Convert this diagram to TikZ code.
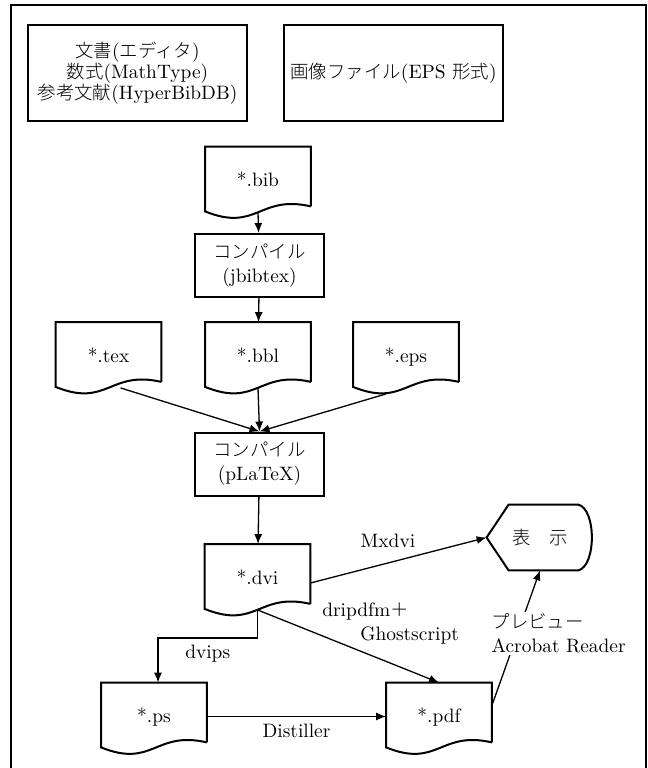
\documentclass[tikz,border=0pt]{standalone}
\usepackage{fontspec}
\usetikzlibrary{arrows.meta}
\newfontfamily\jp{Noto Sans CJK JP Light}[Scale=0.95]
\newcommand{\jtext}[1]{{\jp #1}}
\tikzset{
  docfile/.style={rectangle, minimum width=52.5pt, minimum height=29.5pt, inner sep=0pt, text height=10.4pt, text depth=0pt},
  procbox/.style={rectangle, draw, line width=1pt, minimum width=64.5pt, minimum height=31.5pt, align=center, inner sep=0pt},
  flow/.style={line width=0.65pt, -{Latex[length=5pt,width=4pt]}},
}
\begin{document}
\begin{tikzpicture}[x={(0.5pt,0)},y={(0,-0.5pt)},font=\fontsize{9.7}{12}\selectfont]
\useasboundingbox (0,0) rectangle (648,768);
\clip (0,0) rectangle (648,768);
\draw [line width=0.75pt] (11,5) rectangle (646,775);
% sources
\node [procbox, minimum width=109.5pt, minimum height=48pt, font=\fontsize{9.7}{10.5}\selectfont] (src) at (137.5,73) {\jtext{文書}(\jtext{エディタ})\\\jtext{数式}(MathType)\\\jtext{参考文献}(HyperBibDB)};
\node [procbox, minimum width=109.5pt, minimum height=48pt] (img) at (393.5,73) {\jtext{画像ファイル}(EPS \jtext{形式})};
% files and steps
\node [docfile] (bib) at (258,176.5) {*.bib};
\node [procbox] (jbib) at (259.5,265.5) {\jtext{コンパイル}\\(jbibtex)};
\node [docfile] (tex) at (108.5,352) {*.tex};
\node [docfile] (bbl) at (258,352) {*.bbl};
\node [docfile] (eps) at (406,352) {*.eps};
\node [procbox] (plt) at (259.5,464) {\jtext{コンパイル}\\(pLaTeX)};
\node [docfile] (dvi) at (257.5,574) {*.dvi};
\node [docfile] (ps) at (154,712.5) {*.ps};
\node [docfile] (pdf) at (439,712.5) {*.pdf};
\node [minimum width=53pt, minimum height=32.5pt, inner sep=0pt] (disp) at (540,537.5) {\jtext{表\quad 示}};
% document outlines
\foreach \n in {bib,tex,bbl,eps,dvi,ps,pdf}
  \draw [line width=1pt] (\n.south east) -- (\n.north east) -- (\n.north west) -- ([yshift=-2.5pt]\n.south west) .. controls +(52,21) and +(-52,-12) .. (\n.south east);
\draw [line width=1pt] (disp.west) -- ([xshift=11pt]disp.north west) -- ([xshift=-7.5pt]disp.north east) .. controls +(18,5) and +(18,-5) .. ([xshift=-7.5pt]disp.south east) -- ([xshift=11pt]disp.south west) -- cycle;
% connectors
\draw [flow] ([yshift=-3pt]bib.south) -- (jbib);
\draw [flow] (jbib) -- (bbl);
\draw [flow] ([xshift=6pt,yshift=-3pt]tex.south) -- (plt.north);
\draw [flow] ([yshift=-3pt]bbl.south) -- (plt.north);
\draw [flow] ([xshift=-10pt,yshift=-6pt]eps.south) -- (plt.north);
\draw [flow] (plt) -- (dvi);
\draw [flow] ([yshift=-4.5pt]dvi.east) -- node [pos=0.44, above=4pt] {Mxdvi} (disp.west);
\draw [flow] ([yshift=-3pt]dvi.south) -- ++(0,28) -| node [pos=0.25, below] {dvips} ([xshift=2pt]ps.north);
\draw [flow] ([yshift=-3pt]dvi.south) -- node [pos=0.35, anchor=south west, align=left, xshift=-3pt, yshift=-8pt] {dripdfm\jtext{＋}\\\hspace*{19pt}Ghostscript} (pdf.north);
\draw [flow] ([yshift=-2pt]ps.east) -- node [below] {Distiller} ([yshift=-2pt]pdf.west);
\draw [flow] ([yshift=3.5pt]pdf.east) -- node [pos=0.5, anchor=west, fill=white, align=left, inner sep=1pt, xshift=-13.5pt, yshift=2.25pt] {\jtext{プレビュー}\\Acrobat Reader} (disp.south);
\end{tikzpicture}
\end{document}
